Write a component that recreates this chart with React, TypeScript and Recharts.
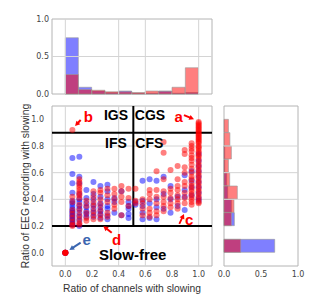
import React from 'react';
import {
  ScatterChart, Scatter, BarChart, Bar, XAxis, YAxis,
  ReferenceLine, ReferenceArea, ReferenceDot,
} from 'recharts';

// x positions: ratio of channels (k / 19)
const channelRatios = [
  0.0, 0.053, 0.105, 0.158, 0.211, 0.263, 0.316, 0.368, 0.421, 0.474,
  0.526, 0.579, 0.632, 0.684, 0.737, 0.789, 0.842, 0.895, 0.947, 1.0,
];

// y values per column (same index as channelRatios)
const redByColumn = [
  [0, 0, 0, 0, 0, 0],
  [0.92, 0.42, 0.38, 0.32, 0.29, 0.26, 0.23, 0.21, 0.2],
  [0.55, 0.53, 0.51, 0.49, 0.47, 0.45, 0.43, 0.41, 0.36, 0.32, 0.28, 0.25, 0.22, 0.21],
  [0.39, 0.35, 0.3, 0.26, 0.24],
  [0.46, 0.42, 0.38, 0.35, 0.31, 0.28, 0.25],
  [0.47, 0.45, 0.4, 0.36, 0.32, 0.28, 0.25],
  [0.48, 0.43, 0.38, 0.3, 0.27],
  [0.48, 0.44, 0.4, 0.36, 0.33],
  [0.5, 0.46, 0.42, 0.38, 0.28],
  [0.48, 0.41, 0.35],
  [0.48, 0.39, 0.37],
  [0.4, 0.37, 0.33, 0.28],
  [0.47, 0.44, 0.4, 0.33, 0.3, 0.27],
  [0.61, 0.47, 0.42, 0.37, 0.31, 0.28],
  [0.83, 0.75, 0.55, 0.46, 0.42, 0.38, 0.35, 0.31],
  [0.62, 0.48, 0.45, 0.41, 0.37, 0.34],
  [0.65, 0.55, 0.5, 0.47, 0.43, 0.4, 0.37, 0.33],
  [0.77, 0.74, 0.64, 0.6, 0.53, 0.5, 0.45, 0.41, 0.37],
  [0.82, 0.8, 0.78, 0.76, 0.73, 0.71, 0.69, 0.66, 0.63, 0.6, 0.57, 0.55, 0.52, 0.5,
    0.48, 0.46, 0.44, 0.42, 0.4, 0.38, 0.36],
  [0.98, 0.97, 0.96, 0.95, 0.94, 0.93, 0.92, 0.91, 0.9, 0.89, 0.88, 0.87, 0.86, 0.85,
    0.84, 0.83, 0.82, 0.8, 0.79, 0.78, 0.76, 0.75, 0.73, 0.72, 0.7, 0.68, 0.66, 0.64,
    0.62, 0.6, 0.58, 0.56, 0.54, 0.52, 0.5, 0.48, 0.46, 0.44, 0.42, 0.4, 0.38, 0.37],
];

const blueByColumn = [
  [0, 0, 0],
  [0.71, 0.59, 0.52, 0.45, 0.39, 0.37, 0.35, 0.33, 0.31, 0.3, 0.28, 0.27, 0.25, 0.24, 0.22, 0.21],
  [0.72, 0.57, 0.52, 0.44, 0.4, 0.38, 0.35, 0.33, 0.3, 0.27, 0.24, 0.2],
  [0.47, 0.41, 0.37, 0.34, 0.31, 0.29, 0.27],
  [0.53, 0.44, 0.4, 0.36, 0.33, 0.3, 0.27],
  [0.5, 0.42, 0.37, 0.34, 0.31, 0.29, 0.26],
  [0.51, 0.46, 0.4, 0.35, 0.33, 0.28, 0.25],
  [0.41, 0.38, 0.3],
  [0.46, 0.28],
  [0.38, 0.35, 0.33, 0.29, 0.26],
  [0.38, 0.36],
  [0.54, 0.39, 0.35, 0.3, 0.25],
  [0.55, 0.37, 0.26],
  [0.54, 0.4, 0.34, 0.25],
  [0.57, 0.44, 0.33],
  [0.5, 0.4, 0.3],
  [0.42, 0.35],
  [0.58, 0.47, 0.42, 0.32],
  [0.61, 0.54, 0.49, 0.43],
  [0.74, 0.69, 0.65, 0.61, 0.57, 0.53, 0.49, 0.45, 0.41, 0.39],
];

// histogram bins (centres of the 0.1-wide bins)
const binMids = [0.05, 0.15, 0.25, 0.35, 0.45, 0.55, 0.65, 0.75, 0.85, 0.95];
const topRed = [0.26, 0.06, 0.05, 0.03, 0.03, 0.02, 0.04, 0.035, 0.09, 0.35];
const topBlue = [0.75, 0.09, 0.04, 0.02, 0.04, 0.01, 0.01, 0.04, 0.01, 0.02];
const sideRed = [0.225, 0, 0.1, 0.135, 0.18, 0.077, 0.06, 0.1, 0.08, 0.06];
const sideBlue = [0.685, 0, 0.14, 0.1, 0.05, 0.036, 0.01, 0.01, 0, 0];

const axisTicks = [0, 0.2, 0.4, 0.6, 0.8, 1.0];

const toPoints = (cols: number[][]) =>
  cols.flatMap((ys, i) => ys.map((y) => ({ x: channelRatios[i], y })));

const redPoints = toPoints(redByColumn);
const bluePoints = toPoints(blueByColumn);

const topData = binMids.map((mid, i) => ({ mid, red: topRed[i], blue: topBlue[i] }));
const sideData = binMids.map((mid, i) => ({ mid, red: sideRed[i], blue: sideBlue[i] }));

const RED = '#ff0000';
const BLUE = '#0000ff';
const GRID = '#d4d4d4';
const FRAME = '#b4b4b4';
const tickStyle = { fontSize: 8, fill: '#444', fontFamily: 'DejaVu Sans' };
const titleStyle = { fontSize: 10.3, fill: '#333', fontFamily: 'Liberation Sans' };
const fmt = (v: number) => v.toFixed(1);
const FULL: [number, number] = [-0.1, 1.1];

const dot = (color: string) => (p: any) => (
  <circle cx={p.cx} cy={p.cy} r={3} fill={color} fillOpacity={0.5} />
);

const arrow = (color: string, width = 2) => (p: any) => {
  const { x1, y1, x2, y2 } = p;
  const a = Math.atan2(y2 - y1, x2 - x1);
  const L = 5.5;
  const hx1 = x2 - L * Math.cos(a - 0.5);
  const hy1 = y2 - L * Math.sin(a - 0.5);
  const hx2 = x2 - L * Math.cos(a + 0.5);
  const hy2 = y2 - L * Math.sin(a + 0.5);
  return (
    <g>
      <line x1={x1} y1={y1} x2={x2 - 3 * Math.cos(a)} y2={y2 - 3 * Math.sin(a)} stroke={color} strokeWidth={width} />
      <polygon points={`${x2},${y2} ${hx1},${hy1} ${hx2},${hy2}`} fill={color} />
    </g>
  );
};

const noteLabel = (value: string, fill: string, fontSize: number) => ({
  value,
  position: 'center' as const,
  fill,
  fontSize,
  fontWeight: 'bold',
  fontFamily: 'Liberation Sans',
});

const abs = (left: number) => ({ position: 'absolute' as const, left, top: 0 });

const App = () => {
  return (
    <div style={{ position: 'absolute', left: 0, top: 0, width: 327, height: 307 }}>
      {/* top histogram */}
      <div style={abs(0)}>
        <BarChart
          width={327}
          height={100}
          data={topData}
          margin={{ top: 19, right: 115, bottom: 6, left: 22 }}
          barCategoryGap={0}
          barGap={0}
        >
          <XAxis xAxisId="blue" dataKey="mid" type="number" domain={FULL} hide />
          <XAxis xAxisId="red" dataKey="mid" type="number" domain={FULL} hide />
          <YAxis
            type="number"
            domain={[0, 1]}
            ticks={[0, 0.5, 1]}
            tickFormatter={fmt}
            width={30}
            tickLine={false}
            axisLine={false}
            tickSize={0}
            tickMargin={3}
            tick={tickStyle}
          />
          <ReferenceLine y={0.5} xAxisId="blue" stroke={GRID} />
          {[0, 0.4, 0.6, 1.0].map((v) => (
            <ReferenceLine key={v} x={v} xAxisId="blue" stroke={GRID} />
          ))}
          <Bar dataKey="blue" xAxisId="blue" fill={BLUE} fillOpacity={0.5} stroke="#999" strokeWidth={0.6} isAnimationActive={false} />
          <Bar dataKey="red" xAxisId="red" fill={RED} fillOpacity={0.5} stroke="#999" strokeWidth={0.6} isAnimationActive={false} />
          <ReferenceArea xAxisId="blue" x1={-0.1} x2={1.1} y1={0} y2={1} fill="none" stroke={FRAME} />
        </BarChart>
      </div>

      {/* scatter */}
      <div style={abs(0)}>
        <ScatterChart width={327} height={307} margin={{ top: 106, right: 115, bottom: 11, left: 18 }}>
          <XAxis
            type="number"
            dataKey="x"
            domain={FULL}
            ticks={axisTicks}
            tickFormatter={fmt}
            height={30}
            tickLine={false}
            axisLine={false}
            tickSize={0}
            tickMargin={5}
            tick={tickStyle}
            label={{ value: 'Ratio of channels with slowing', position: 'insideBottom', offset: 4, ...titleStyle }}
          />
          <YAxis
            type="number"
            dataKey="y"
            domain={FULL}
            ticks={axisTicks}
            tickFormatter={fmt}
            width={34}
            tickLine={false}
            axisLine={false}
            tickSize={0}
            tickMargin={8}
            tick={tickStyle}
            label={{
              value: 'Ratio of EEG recording with slowing',
              angle: -90,
              position: 'insideLeft',
              offset: 7,
              style: { textAnchor: 'middle' },
              ...titleStyle,
            }}
          />
          {[0, 0.4, 0.6, 1.0].map((v) => (
            <ReferenceLine key={'v' + v} x={v} stroke={GRID} />
          ))}
          {[0.4, 0.6, 0.8].map((v) => (
            <ReferenceLine key={'h' + v} y={v} stroke={GRID} />
          ))}
          <Scatter data={bluePoints} fill={BLUE} shape={dot(BLUE)} isAnimationActive={false} />
          <Scatter data={redPoints} fill={RED} shape={dot(RED)} isAnimationActive={false} />
          <ReferenceLine y={0.9} stroke="#000" strokeWidth={2} />
          <ReferenceLine y={0.2} stroke="#000" strokeWidth={2} />
          <ReferenceLine segment={[{ x: 0.51, y: 0.2 }, { x: 0.51, y: 1.1 }]} stroke="#000" strokeWidth={2} />
          <ReferenceArea x1={-0.1} x2={1.1} y1={-0.1} y2={1.1} fill="none" stroke={FRAME} />

          <ReferenceDot x={0.38} y={1.032} r={0} stroke="none" label={noteLabel('IGS', '#000', 14)} />
          <ReferenceDot x={0.635} y={1.032} r={0} stroke="none" label={noteLabel('CGS', '#000', 14)} />
          <ReferenceDot x={0.38} y={0.825} r={0} stroke="none" label={noteLabel('IFS', '#000', 14)} />
          <ReferenceDot x={0.63} y={0.825} r={0} stroke="none" label={noteLabel('CFS', '#000', 14)} />
          <ReferenceDot x={0.505} y={-0.015} r={0} stroke="none" label={noteLabel('Slow-free', '#000', 15)} />

          <ReferenceDot x={0.85} y={1.02} r={0} stroke="none" label={noteLabel('a', RED, 15)} />
          <ReferenceDot x={0.173} y={1.02} r={0} stroke="none" label={noteLabel('b', RED, 15)} />
          <ReferenceDot x={0.928} y={0.245} r={0} stroke="none" label={noteLabel('c', RED, 15)} />
          <ReferenceDot x={0.385} y={0.1} r={0} stroke="none" label={noteLabel('d', RED, 15)} />
          <ReferenceDot x={0.16} y={0.1} r={0} stroke="none" label={noteLabel('e', '#3b66b0', 15)} />

          <ReferenceLine segment={[{ x: 0.89, y: 1.032 }, { x: 0.965, y: 1.0 }]} shape={arrow(RED)} />
          <ReferenceLine segment={[{ x: 0.115, y: 0.995 }, { x: 0.073, y: 0.95 }]} shape={arrow(RED)} />
          <ReferenceLine segment={[{ x: 0.855, y: 0.216 }, { x: 0.89, y: 0.29 }]} shape={arrow(RED, 1.8)} />
          <ReferenceLine segment={[{ x: 0.348, y: 0.149 }, { x: 0.285, y: 0.199 }]} shape={arrow(RED)} />
          <ReferenceLine segment={[{ x: 0.115, y: 0.075 }, { x: 0.03, y: 0.02 }]} shape={arrow('#3b66b0')} />
        </ScatterChart>
      </div>

      {/* right histogram */}
      <div style={abs(200)}>
        <BarChart
          width={127}
          height={307}
          layout="vertical"
          data={sideData}
          margin={{ top: 106, right: 29, bottom: 11, left: 24 }}
          barCategoryGap={0}
          barGap={0}
        >
          <XAxis
            type="number"
            domain={[0, 1]}
            ticks={[0, 0.5, 1]}
            tickFormatter={fmt}
            height={30}
            tickLine={false}
            axisLine={false}
            tickSize={0}
            tickMargin={5}
            tick={tickStyle}
          />
          <YAxis yAxisId="blue" dataKey="mid" type="number" domain={FULL} reversed hide />
          <YAxis yAxisId="red" dataKey="mid" type="number" domain={FULL} reversed hide />
          {[0.4, 0.6, 0.8].map((v) => (
            <ReferenceLine key={v} y={v} yAxisId="blue" stroke={GRID} />
          ))}
          <Bar dataKey="blue" yAxisId="blue" fill={BLUE} fillOpacity={0.5} stroke="#999" strokeWidth={0.6} isAnimationActive={false} />
          <Bar dataKey="red" yAxisId="red" fill={RED} fillOpacity={0.5} stroke="#999" strokeWidth={0.6} isAnimationActive={false} />
          <ReferenceArea yAxisId="blue" x1={0} x2={1} y1={-0.1} y2={1.1} fill="none" stroke={FRAME} />
        </BarChart>
      </div>
    </div>
  );
};

export default App;
